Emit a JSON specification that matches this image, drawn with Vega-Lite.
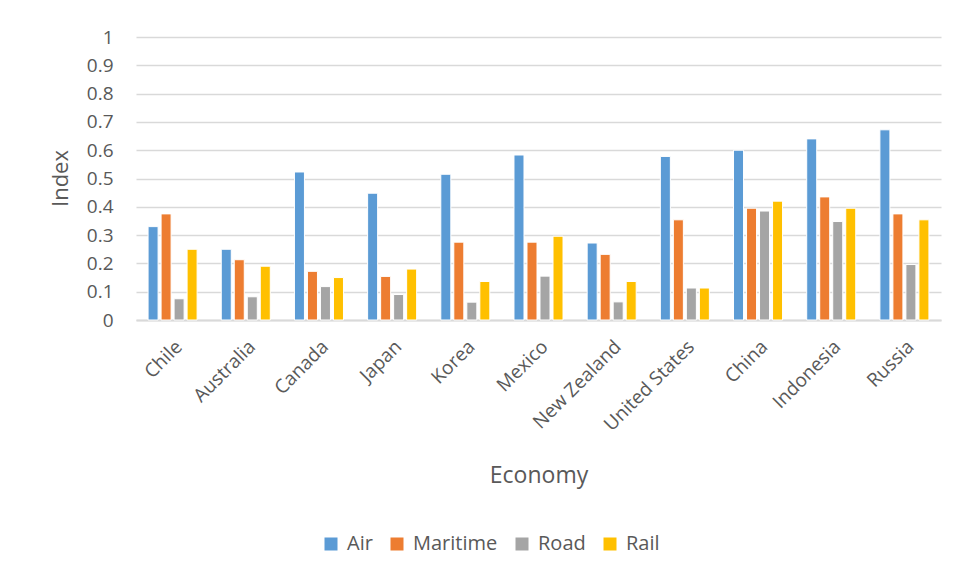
{
  "$schema": "https://vega.github.io/schema/vega-lite/v6.json",
  "width": 805,
  "height": 283,
  "autosize": "none",
  "padding": {"left": 136, "top": 37, "right": 17, "bottom": 258},
  "background": "white",
  "config": {
    "font": "Open Sans",
    "view": {"stroke": null},
    "axis": {"labelColor": "#595959", "titleColor": "#595959", "labelFont": "Open Sans", "titleFont": "Open Sans", "titleFontWeight": "normal"}
  },
  "data": {
    "values": [
      {"Economy": "Chile", "Mode": "Air", "Index": 0.33},
      {"Economy": "Chile", "Mode": "Maritime", "Index": 0.375},
      {"Economy": "Chile", "Mode": "Road", "Index": 0.075},
      {"Economy": "Chile", "Mode": "Rail", "Index": 0.25},
      {"Economy": "Australia", "Mode": "Air", "Index": 0.25},
      {"Economy": "Australia", "Mode": "Maritime", "Index": 0.213},
      {"Economy": "Australia", "Mode": "Road", "Index": 0.082},
      {"Economy": "Australia", "Mode": "Rail", "Index": 0.19},
      {"Economy": "Canada", "Mode": "Air", "Index": 0.523},
      {"Economy": "Canada", "Mode": "Maritime", "Index": 0.172},
      {"Economy": "Canada", "Mode": "Road", "Index": 0.118},
      {"Economy": "Canada", "Mode": "Rail", "Index": 0.15},
      {"Economy": "Japan", "Mode": "Air", "Index": 0.448},
      {"Economy": "Japan", "Mode": "Maritime", "Index": 0.154},
      {"Economy": "Japan", "Mode": "Road", "Index": 0.09},
      {"Economy": "Japan", "Mode": "Rail", "Index": 0.18},
      {"Economy": "Korea", "Mode": "Air", "Index": 0.515},
      {"Economy": "Korea", "Mode": "Maritime", "Index": 0.275},
      {"Economy": "Korea", "Mode": "Road", "Index": 0.063},
      {"Economy": "Korea", "Mode": "Rail", "Index": 0.136},
      {"Economy": "Mexico", "Mode": "Air", "Index": 0.583},
      {"Economy": "Mexico", "Mode": "Maritime", "Index": 0.275},
      {"Economy": "Mexico", "Mode": "Road", "Index": 0.155},
      {"Economy": "Mexico", "Mode": "Rail", "Index": 0.296},
      {"Economy": "New Zealand", "Mode": "Air", "Index": 0.272},
      {"Economy": "New Zealand", "Mode": "Maritime", "Index": 0.232},
      {"Economy": "New Zealand", "Mode": "Road", "Index": 0.064},
      {"Economy": "New Zealand", "Mode": "Rail", "Index": 0.136},
      {"Economy": "United States", "Mode": "Air", "Index": 0.578},
      {"Economy": "United States", "Mode": "Maritime", "Index": 0.354},
      {"Economy": "United States", "Mode": "Road", "Index": 0.113},
      {"Economy": "United States", "Mode": "Rail", "Index": 0.113},
      {"Economy": "China", "Mode": "Air", "Index": 0.6},
      {"Economy": "China", "Mode": "Maritime", "Index": 0.395},
      {"Economy": "China", "Mode": "Road", "Index": 0.385},
      {"Economy": "China", "Mode": "Rail", "Index": 0.42},
      {"Economy": "Indonesia", "Mode": "Air", "Index": 0.64},
      {"Economy": "Indonesia", "Mode": "Maritime", "Index": 0.435},
      {"Economy": "Indonesia", "Mode": "Road", "Index": 0.348},
      {"Economy": "Indonesia", "Mode": "Rail", "Index": 0.395},
      {"Economy": "Russia", "Mode": "Air", "Index": 0.672},
      {"Economy": "Russia", "Mode": "Maritime", "Index": 0.375},
      {"Economy": "Russia", "Mode": "Road", "Index": 0.196},
      {"Economy": "Russia", "Mode": "Rail", "Index": 0.354}
    ]
  },
  "mark": {"type": "bar", "stroke": "white", "strokeWidth": 1},
  "encoding": {
    "x": {
      "field": "Economy", "type": "nominal", "sort": null,
      "scale": {"paddingInner": 0.33, "paddingOuter": 0.165},
      "axis": {
        "title": "Economy", "titleFontSize": 23, "titleY": 155, "titleBaseline": "middle",
        "labelAngle": -45, "labelFontSize": 19, "labelPadding": 17, "labelDx": -4,
        "ticks": false, "domainColor": "#D9D9D9", "domainWidth": 2, "grid": false
      }
    },
    "xOffset": {
      "field": "Mode", "type": "nominal", "sort": ["Air", "Maritime", "Road", "Rail"],
      "scale": {"paddingInner": 0.23, "paddingOuter": 0}
    },
    "y": {
      "field": "Index", "type": "quantitative",
      "scale": {"domain": [0, 1], "nice": false},
      "axis": {
        "title": "Index", "titleFontSize": 22, "titleX": -76, "titleY": 141, "titleBaseline": "middle", "titleAlign": "center", "titleAngle": -90,
        "values": [0, 0.1, 0.2, 0.3, 0.4, 0.5, 0.6, 0.7, 0.8, 0.9, 1],
        "labelExpr": "datum.value == 0 ? '0' : datum.value == 1 ? '1' : format(datum.value, '.1f')",
        "labelFontSize": 19, "labelPadding": 23, "ticks": false, "domain": false,
        "gridColor": "#D9D9D9", "gridWidth": 1.5
      }
    },
    "color": {
      "field": "Mode", "type": "nominal",
      "sort": ["Air", "Maritime", "Road", "Rail"],
      "scale": {"domain": ["Air", "Maritime", "Road", "Rail"], "range": ["#5B9BD5", "#ED7D31", "#A5A5A5", "#FFC000"]},
      "legend": {
        "title": null, "orient": "none", "direction": "horizontal",
        "legendX": 185, "legendY": 497,
        "symbolType": "square", "symbolSize": 169, "symbolStrokeWidth": 0,
        "labelFontSize": 20, "labelColor": "#595959", "labelFont": "Open Sans",
        "columnPadding": 14, "symbolOffset": 0, "labelOffset": 6
      }
    }
  }
}
